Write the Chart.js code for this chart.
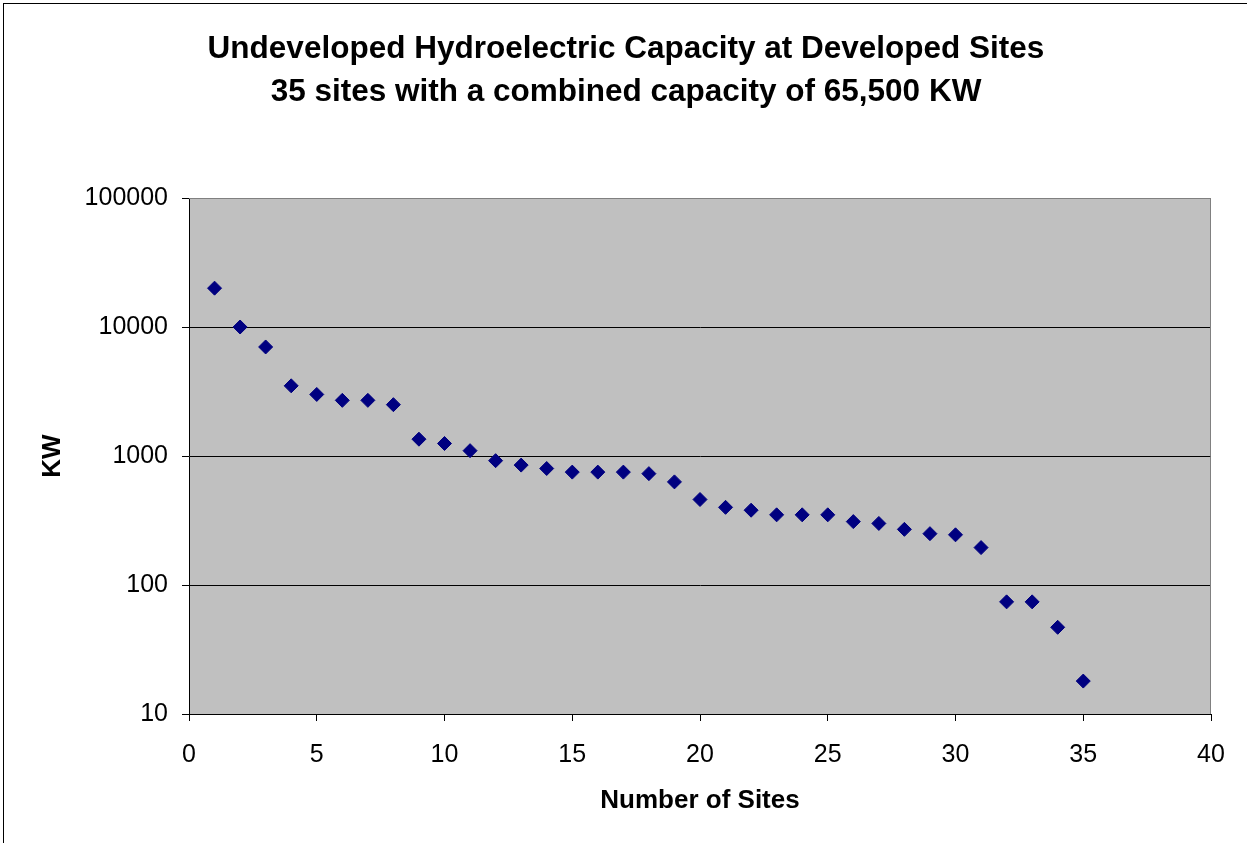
<!DOCTYPE html>
<html>
<head>
<meta charset="utf-8">
<script src="https://cdn.jsdelivr.net/npm/chart.js@4.4.1/dist/chart.umd.min.js"></script>
<style>
  html, body { margin: 0; padding: 0; background: #ffffff; }
  #wrap { position: relative; width: 1247px; height: 843px; overflow: hidden; }
  #frame { position: absolute; left: 3px; top: 3px; width: 1300px; height: 900px; border: 1px solid #000; pointer-events: none; }
</style>
</head>
<body>
<div id="wrap">
  <canvas id="c" width="1247" height="843"></canvas>
  <div id="frame"></div>
</div>
<script>
const titleLines = ["Undeveloped Hydroelectric Capacity at Developed Sites", "35 sites with a combined capacity of 65,500 KW"];
const xAxisTitle = "Number of Sites";
const yAxisTitle = "KW";
const sites = [1,2,3,4,5,6,7,8,9,10,11,12,13,14,15,16,17,18,19,20,21,22,23,24,25,26,27,28,29,30,31,32,33,34,35];
const kw = [20000,10000,7000,3500,3000,2700,2700,2500,1350,1250,1100,920,850,800,750,750,750,730,630,460,400,380,350,350,350,310,300,270,250,245,195,74,74,47,18];
const yTickValues = [10, 100, 1000, 10000, 100000];
const xTickValues = [0, 5, 10, 15, 20, 25, 30, 35, 40];

const FONT = "'Liberation Sans', Arial, sans-serif";

const plotBg = {
  id: 'plotBg',
  beforeDraw(chart) {
    const {ctx, chartArea: a} = chart;
    ctx.save();
    ctx.fillStyle = '#C0C0C0';
    ctx.fillRect(a.left, a.top, a.right - a.left, a.bottom - a.top);
    ctx.restore();
  },
  afterDraw(chart) {
    const {ctx, chartArea: a} = chart;
    ctx.save();
    ctx.strokeStyle = '#808080';
    ctx.lineWidth = 1;
    ctx.beginPath();
    ctx.moveTo(a.left, a.top + 0.5);
    ctx.lineTo(a.right - 0.5, a.top + 0.5);
    ctx.lineTo(a.right - 0.5, a.bottom);
    ctx.stroke();
    ctx.restore();
  }
};

new Chart(document.getElementById('c'), {
  type: 'scatter',
  data: {
    datasets: [{
      data: sites.map((s, i) => ({x: s, y: kw[i]})),
      pointStyle: 'rectRot',
      pointRadius: 7,
      pointHoverRadius: 7,
      backgroundColor: '#000080',
      borderColor: '#000080',
      borderWidth: 1
    }]
  },
  plugins: [plotBg],
  options: {
    responsive: false,
    animation: false,
    devicePixelRatio: 1,
    layout: { padding: { left: 5, right: 0, top: 0, bottom: 0 } },
    plugins: {
      legend: { display: false },
      tooltip: { enabled: false },
      title: {
        display: true,
        text: titleLines,
        color: '#000',
        font: { family: FONT, size: 31.5, weight: 'bold', lineHeight: 43.5 / 31.5 },
        padding: { top: 27.5, bottom: 83.5 }
      }
    },
    scales: {
      x: {
        type: 'linear',
        min: 0,
        max: 40,
        afterBuildTicks(scale) { scale.ticks = xTickValues.map(v => ({value: v})); },
        afterFit(scale) { scale.height = 129; },
        ticks: { color: '#000', font: { family: FONT, size: 25 }, padding: 19, maxRotation: 0, autoSkip: false },
        grid: { display: true, drawOnChartArea: false, drawTicks: true, tickLength: 7, color: '#000', tickColor: '#000', lineWidth: 1 },
        border: { display: true, color: '#000', width: 1 },
        title: { display: true, text: xAxisTitle, color: '#000', font: { family: FONT, size: 26, weight: 'bold', lineHeight: 1.2 }, padding: { top: 0, bottom: 26.8 } }
      },
      y: {
        type: 'logarithmic',
        min: 10,
        max: 100000,
        afterBuildTicks(scale) { scale.ticks = yTickValues.map(v => ({value: v, major: true})); },
        afterFit(scale) { scale.width = 184; },
        ticks: { color: '#000', font: { family: FONT, size: 25 }, padding: 14, autoSkip: false, callback: v => String(v) },
        grid: { display: true, drawTicks: true, tickLength: 7, color: c => (c.tick && c.tick.value === 100000 ? '#808080' : '#000'), tickColor: '#000', lineWidth: 1 },
        border: { display: true, color: '#000', width: 1 },
        title: { display: true, text: yAxisTitle, color: '#000', font: { family: FONT, size: 26, weight: 'bold', lineHeight: 1.2 }, padding: { top: 31.8, bottom: 0 } }
      },
      yRight: {
        type: 'linear',
        position: 'right',
        display: true,
        afterFit(scale) { scale.width = 36; },
        ticks: { display: false },
        grid: { display: false, drawTicks: false },
        border: { display: false },
        title: { display: false }
      }
    }
  }
});
</script>
</body>
</html>
